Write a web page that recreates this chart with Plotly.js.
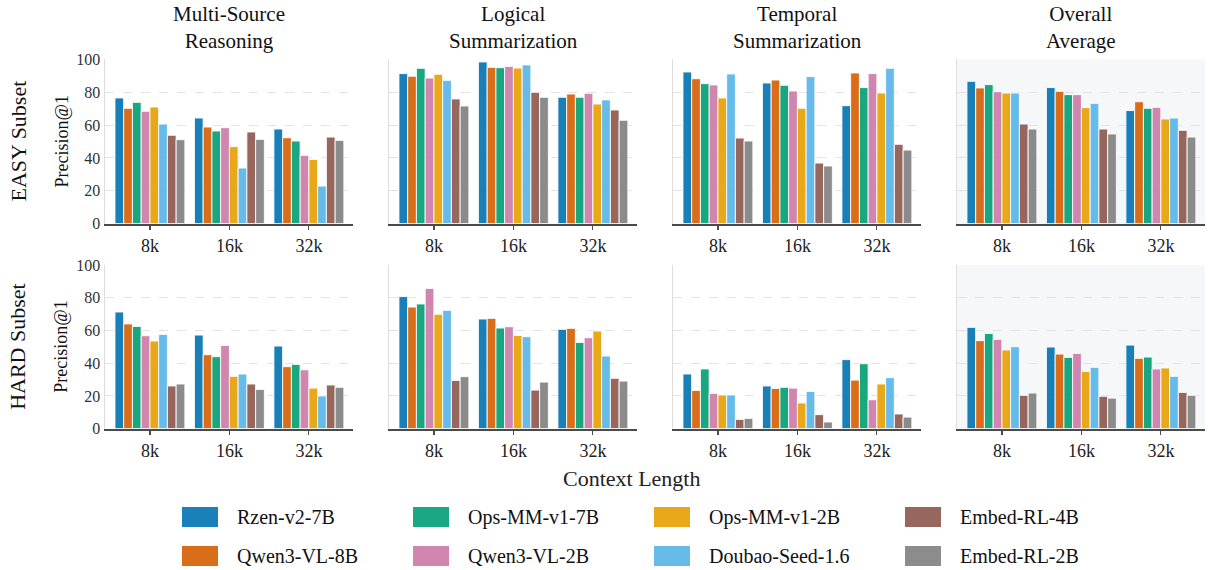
<!DOCTYPE html>
<html>
<head>
<meta charset="utf-8">
<script src="https://cdn.plot.ly/plotly-3.0.1.min.js"></script>
<style>html,body{margin:0;padding:0;background:#fff;}#chart{width:1208px;height:570px;}</style>
</head>
<body>
<div id="chart"></div>
<script>
// ---------------- DATA ----------------
const contexts = ['8k', '16k', '32k'];
const models = ['Rzen-v2-7B', 'Qwen3-VL-8B', 'Ops-MM-v1-7B', 'Qwen3-VL-2B', 'Ops-MM-v1-2B', 'Doubao-Seed-1.6', 'Embed-RL-4B', 'Embed-RL-2B'];
const modelColors = ['#0072B2', '#D55E00', '#009E73', '#CC79A7', '#E69F00', '#56B4E9', '#8C564B', '#7F7F7F'];
const taskTitles = ['Multi-Source<br>Reasoning', 'Logical<br>Summarization', 'Temporal<br>Summarization', 'Overall<br>Average'];
const subsetLabels = ['EASY Subset', 'HARD Subset'];
const yTickVals = [0, 20, 40, 60, 80, 100];

// rows: models (same order as `models`), columns: 8k, 16k, 32k
const easyMultiSource = [
  [76.5, 64.3, 57.6], [70.2, 58.8, 52.3], [73.8, 56.4, 50.3], [68.4, 58.4, 41.6],
  [71.0, 46.9, 39.1], [60.6, 33.9, 22.9], [53.8, 55.8, 52.7], [51.1, 51.3, 50.7]];
const easyLogical = [
  [91.3, 98.4, 76.9], [89.7, 95.1, 78.9], [94.5, 94.9, 76.9], [88.6, 95.7, 79.3],
  [90.9, 94.7, 72.8], [87.2, 96.6, 75.3], [75.9, 79.9, 69.2], [71.6, 76.9, 62.9]];
const easyTemporal = [
  [92.3, 85.6, 71.8], [88.2, 87.4, 91.7], [85.2, 84.2, 82.8], [84.4, 80.7, 91.3],
  [76.5, 70.2, 79.5], [91.1, 89.5, 94.5], [52.1, 36.9, 48.3], [50.3, 35.1, 44.8]];
const easyOverall = [
  [86.6, 82.8, 68.8], [82.6, 80.5, 74.2], [84.6, 78.5, 70.2], [80.3, 78.5, 70.8],
  [79.5, 70.6, 63.7], [79.5, 73.2, 64.3], [60.6, 57.6, 56.8], [57.6, 54.6, 52.7]];
const hardMultiSource = [
  [71.3, 57.2, 50.5], [64.0, 45.2, 37.9], [62.5, 44.0, 39.3], [56.8, 50.9, 36.0],
  [53.6, 32.0, 24.8], [57.6, 33.4, 20.0], [26.1, 27.3, 26.7], [27.3, 24.0, 25.3]];
const hardLogical = [
  [80.7, 67.0, 60.7], [74.3, 67.4, 61.3], [76.2, 61.5, 52.7], [85.7, 62.3, 55.6],
  [69.9, 57.0, 59.7], [72.3, 56.2, 44.4], [29.5, 23.6, 30.8], [31.8, 28.5, 29.1]];
const hardTemporal = [
  [33.4, 26.1, 42.2], [23.4, 24.6, 29.7], [36.5, 25.3, 39.7], [21.6, 24.8, 17.7],
  [20.6, 15.7, 27.3], [20.6, 22.8, 31.2], [5.7, 8.6, 9.0], [6.3, 4.1, 7.1]];
const hardOverall = [
  [61.9, 49.9, 51.1], [53.8, 45.6, 43.0], [58.2, 43.6, 43.8], [54.6, 46.0, 36.5],
  [48.1, 35.0, 37.1], [50.1, 37.5, 32.0], [20.4, 19.8, 22.2], [21.8, 18.7, 20.4]];

const panels = [easyMultiSource, easyLogical, easyTemporal, easyOverall,
                hardMultiSource, hardLogical, hardTemporal, hardOverall];

// ---------------- LAYOUT ----------------
const W = 1208, H = 570;
const FONT = 'Liberation Serif';
const px = x => x / W;
const py = y => 1 - y / H;
const colPx = [[105, 353], [389, 637], [673, 921], [957, 1205]];
const rowPx = [[59.3, 223.7], [265, 428.7]];

const traces = [];
const layout = {
  width: W, height: H,
  margin: {l: 0, r: 0, t: 0, b: 0},
  paper_bgcolor: '#ffffff', plot_bgcolor: 'rgba(0,0,0,0)',
  font: {family: FONT, color: '#222'},
  barmode: 'group', bargap: 0.12, bargroupgap: 0,
  showlegend: false,
  shapes: [], annotations: []
};

panels.forEach((data, p) => {
  const r = Math.floor(p / 4), c = p % 4;
  const n = p + 1;
  const xa = 'x' + (n === 1 ? '' : n), ya = 'y' + (n === 1 ? '' : n);
  data.forEach((vals, m) => {
    traces.push({
      type: 'bar', x: contexts, y: vals, name: models[m],
      xaxis: xa, yaxis: ya,
      marker: {color: modelColors[m], opacity: 0.9, line: {color: '#ffffff', width: 0.9}},
      hoverinfo: 'x+y+name', showlegend: false
    });
  });
  layout['xaxis' + (n === 1 ? '' : n)] = {
    domain: [px(colPx[c][0]), px(colPx[c][1])],
    anchor: ya, range: [-0.565, 2.555], fixedrange: true,
    showgrid: false, zeroline: false,
    showline: true, linecolor: '#4a4a4a', linewidth: 2.5,
    ticks: 'outside', ticklen: 4, tickwidth: 1.2, tickcolor: '#4a4a4a',
    tickfont: {family: FONT, size: 18, color: '#222'},
    automargin: false
  };
  layout['yaxis' + (n === 1 ? '' : n)] = {
    domain: [py(rowPx[r][1]), py(rowPx[r][0])],
    anchor: xa, range: [0, 100], fixedrange: true,
    tickvals: yTickVals, showticklabels: c === 0,
    ticks: '', tickfont: {family: FONT, size: 16, color: '#333'},
    showgrid: true, gridcolor: '#dcdcdc', griddash: 'dash', gridwidth: 0.8,
    zeroline: false, showline: true, linecolor: '#dddddd', linewidth: 1.5,
    automargin: false
  };
  if (c === 3) {
    layout.shapes.push({
      type: 'rect', xref: xa + ' domain', yref: ya + ' domain',
      x0: 0, x1: 1, y0: 0, y1: 1, layer: 'below',
      fillcolor: '#f6f7f9', line: {width: 0}
    });
  }
});

// column titles
taskTitles.forEach((title, c) => {
  layout.annotations.push({
    text: title, xref: 'paper', yref: 'paper',
    x: px((colPx[c][0] + colPx[c][1]) / 2), y: py(27),
    xanchor: 'center', yanchor: 'middle', showarrow: false,
    font: {family: FONT, size: 21, color: '#111'}
  });
});

// row labels and y-axis titles
subsetLabels.forEach((lab, r) => {
  const cy = py((rowPx[r][0] + rowPx[r][1]) / 2);
  layout.annotations.push({
    text: lab, xref: 'paper', yref: 'paper', x: px(18), y: cy,
    xanchor: 'center', yanchor: 'middle', textangle: -90, showarrow: false,
    font: {family: FONT, size: 22, color: '#111'}
  });
  layout.annotations.push({
    text: 'Precision@1', xref: 'paper', yref: 'paper', x: px(61), y: cy,
    xanchor: 'center', yanchor: 'middle', textangle: -90, showarrow: false,
    font: {family: FONT, size: 18, color: '#111'}
  });
});

// shared x title
layout.annotations.push({
  text: 'Context Length', xref: 'paper', yref: 'paper', x: px(631), y: py(478),
  xanchor: 'center', yanchor: 'middle', showarrow: false,
  font: {family: FONT, size: 22, color: '#222'}
});

// legend (4 columns, 2 rows, column-major like the reference)
const legColX = [182, 413, 654, 905];
const legRowY = [517, 556];
models.forEach((name, m) => {
  const c = Math.floor(m / 2), r = m % 2;
  const x0 = legColX[c], yc = legRowY[r];
  layout.shapes.push({
    type: 'rect', xref: 'paper', yref: 'paper',
    x0: px(x0), x1: px(x0 + 36), y0: py(yc + 10), y1: py(yc - 10),
    fillcolor: modelColors[m], opacity: 0.9, line: {width: 0}
  });
  layout.annotations.push({
    text: name, xref: 'paper', yref: 'paper', x: px(x0 + 53), y: py(yc),
    xanchor: 'left', yanchor: 'middle', showarrow: false,
    font: {family: FONT, size: 20, color: '#111'}
  });
});

Plotly.newPlot('chart', traces, layout, {displayModeBar: false, staticPlot: true});
</script>
</body>
</html>
